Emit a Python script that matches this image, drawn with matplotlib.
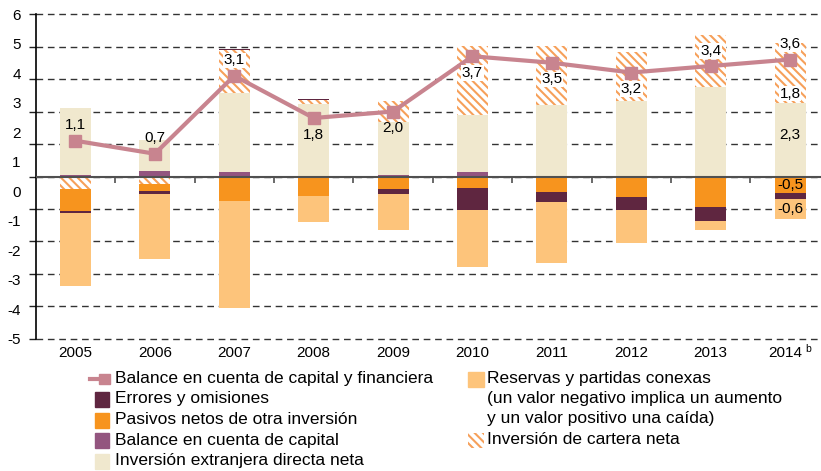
import numpy as np
import matplotlib
matplotlib.use("Agg")
import matplotlib.pyplot as plt
from matplotlib.patches import Rectangle
from matplotlib.lines import Line2D
from matplotlib.transforms import ScaledTranslation

plt.rcParams['font.family'] = ['Liberation Sans', 'DejaVu Sans']
plt.rcParams['hatch.linewidth'] = 1.5

# data
years = ['2005', '2006', '2007', '2008', '2009', '2010', '2011', '2012', '2013', '2014']
cap = [0.05, 0.18, 0.15, 0.03, 0.05, 0.15, 0.02, 0.02, 0.0, 0.0]          # balance cuenta de capital
ied = [2.05, 0.95, 2.43, 2.21, 1.64, 1.73, 2.18, 2.29, 2.74, 2.25]        # inversion extranjera directa
cartera = [-0.38, -0.22, 1.32, 0.12, 0.64, 2.15, 1.82, 1.52, 1.62, 1.85]  # inversion de cartera
pasivos = [-0.68, -0.23, -0.75, -0.60, -0.40, -0.34, -0.49, -0.63, -0.93, -0.50]
errores = [-0.05, -0.10, 0.03, 0.03, -0.15, -0.69, -0.31, -0.40, -0.45, -0.20]
reservas = [-2.25, -1.98, -3.30, -0.80, -1.10, -1.74, -1.87, -1.02, -0.26, -0.60]
balance = [1.1, 0.7, 3.1, 1.8, 2.0, 3.7, 3.5, 3.2, 3.4, 3.6]
balance_txt = ['1,1', '0,7', '3,1', '1,8', '2,0', '3,7', '3,5', '3,2', '3,4', '3,6']
label_above = [True, True, True, False, False, False, False, False, True, True]
white_box = [False, False, True, False, False, True, True, True, True, True]

grid_vals = np.arange(-5, 6)
ytick_txt = ['6', '5', '4', '3', '2', '1', '0', '-1', '-2', '-3', '-4', '-5']

c_ied = '#F0E8CE'
c_cap = '#93557F'
c_pas = '#F7941E'
c_err = '#5F2640'
c_res = '#FDC47B'
c_hatch = '#F6A05A'
c_line = '#C8848F'
hatch = '\\\\\\\\'

fig = plt.figure(figsize=(8.21, 4.71), dpi=100)
ax = fig.add_axes([36/821, 1 - 340.6/471, 785/821, 328.2/471])

x = np.arange(len(years))
w = 0.39
series = [(cap, dict(color=c_cap)),
          (ied, dict(color=c_ied)),
          (cartera, dict(color='white', edgecolor=c_hatch, hatch=hatch, linewidth=0)),
          (pasivos, dict(color=c_pas)),
          (errores, dict(color=c_err)),
          (reservas, dict(color=c_res))]
pos = np.zeros(len(x))
neg = np.zeros(len(x))
for vals, style in series:
    v = np.array(vals)
    bottom = np.where(v >= 0, pos, neg)
    ax.bar(x, v, w, bottom=bottom, zorder=2, **style)
    pos = pos + np.clip(v, 0, None)
    neg = neg + np.clip(v, None, 0)

ax.plot(x, balance, color=c_line, lw=3, marker='s', ms=8.5, zorder=4)

lfs = 11
for i in range(len(x)):
    off = 11 if label_above[i] else -12
    bb = dict(boxstyle='square,pad=0.05', fc='white', ec='none') if white_box[i] else None
    ax.annotate(balance_txt[i], (x[i], balance[i]), xytext=(0, off), textcoords='offset points',
                ha='center', va='center', fontsize=lfs, zorder=5, bbox=bb)

# extra labels on the last bar
i = 9
ax.text(x[i], cap[i] + ied[i] + 0.3, '1,8', ha='center', va='center', fontsize=lfs, zorder=5,
        bbox=dict(boxstyle='square,pad=0.05', fc='white', ec='none'))
ax.text(x[i], cap[i] + ied[i] / 2 + 0.15, '2,3', ha='center', va='center', fontsize=lfs, zorder=5)
ax.text(x[i], pasivos[i] / 2, '-0,5', ha='center', va='center', fontsize=lfs, zorder=5)
ax.text(x[i], pasivos[i] + errores[i] + reservas[i] / 2, '-0,6', ha='center', va='center', fontsize=lfs, zorder=5)

# zero line with category separators
ax.axhline(0, color='#505050', lw=1.5, zorder=3)
ax.vlines(x[:-1] + 0.5, -0.2, 0, color='#505050', lw=1.2, zorder=3)

ax.set_xlim(-0.497, 9.39)
ax.set_ylim(-5.05, 5.05)
ax.yaxis.remove_overlapping_locs = False
ax.set_yticks(grid_vals, labels=[''] * len(grid_vals))
ax.set_yticks(np.linspace(5, -5, len(ytick_txt)), labels=ytick_txt, minor=True)
ax.tick_params(axis='y', which='major', length=5, width=1, color='#222222')
ax.tick_params(axis='y', which='minor', length=0, pad=11, labelsize=11)
ax.set_xticks(x, labels=years)
ax.tick_params(axis='x', length=0, pad=4, labelsize=11)
ax.grid(axis='y', which='major', color='#333333', lw=1.0, linestyle=(0, (4.8, 3.4)), zorder=0)
ax.set_axisbelow(True)
for s in ['top', 'right', 'bottom']:
    ax.spines[s].set_visible(False)
ax.spines['left'].set_bounds(-5, 5)
ax.spines['left'].set_linewidth(1.2)

# last year: shift a bit left and add the note mark
last = ax.get_xticklabels()[-1]
last.set_transform(last.get_transform() + ScaledTranslation(-5 / 100, 0, fig.dpi_scale_trans))
ax.annotate('b', xy=(x[-1], 0), xycoords=('data', 'axes fraction'), xytext=(13, -6),
            textcoords='offset points', fontsize=7.5, ha='center', va='center')

# legend, drawn by hand
def px(xp, yp):
    return xp / 821, 1 - yp / 471

def box(x0, yc, wd, ht, **kw):
    fig.add_artist(Rectangle(px(x0, yc + ht / 2), wd / 821, ht / 471, transform=fig.transFigure, **kw))

fs = 12.5
fig.add_artist(Line2D([px(90, 0)[0], px(104, 0)[0]], [px(0, 379)[1]] * 2, color=c_line, lw=3,
                      transform=fig.transFigure))
box(99, 379, 11, 10, color=c_line)
fig.text(*px(115, 379), 'Balance en cuenta de capital y financiera', va='center', fontsize=fs)
left_items = [(c_err, 'Errores y omisiones', 399),
              (c_pas, 'Pasivos netos de otra inversión', 420),
              (c_cap, 'Balance en cuenta de capital', 440),
              (c_ied, 'Inversión extranjera directa neta', 461)]
for col, txt, yy in left_items:
    box(95, yy, 14, 15, color=col)
    fig.text(*px(115, yy), txt, va='center', fontsize=fs)

box(468, 379, 16, 15, color=c_res)
fig.text(*px(487, 379), 'Reservas y partidas conexas', va='center', fontsize=fs)
fig.text(*px(487, 399), '(un valor negativo implica un aumento', va='center', fontsize=fs)
fig.text(*px(487, 419), 'y un valor positivo una caída)', va='center', fontsize=fs)
box(468, 440, 16, 15, facecolor='white', edgecolor=c_hatch, hatch=hatch, linewidth=0)
fig.text(*px(487, 440), 'Inversión de cartera neta', va='center', fontsize=fs)

fig.savefig('out.png', dpi=100)
